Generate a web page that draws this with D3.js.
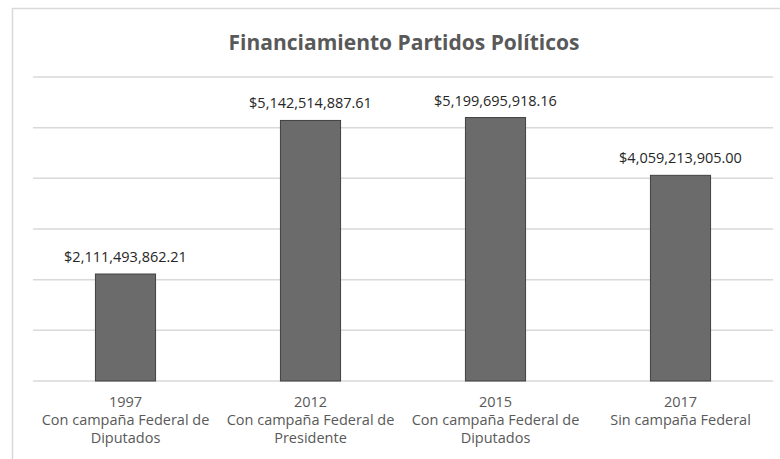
<!DOCTYPE html>
<html>
<head>
<meta charset="utf-8">
<script src="https://cdn.jsdelivr.net/npm/d3@7"></script>
<style>
  body { margin: 0; background: #fff; }
  svg text { font-family: "Open Sans", "Liberation Sans", sans-serif; }
</style>
</head>
<body>
<div id="chart"></div>
<script>
// data
var years = ["1997", "2012", "2015", "2017"];
var descriptions = ["Con campaña Federal de|Diputados", "Con campaña Federal de|Presidente", "Con campaña Federal de|Diputados", "Sin campaña Federal"];
var amounts = [2111493862.21, 5142514887.61, 5199695918.16, 4059213905.00];
var gridTicks = [0, 1e9, 2e9, 3e9, 4e9, 5e9, 6e9];

var svgWidth = 780, svgHeight = 459;
var margin = {top: 77, right: 7, bottom: 78, left: 33};
var width = svgWidth - margin.left - margin.right,
    height = svgHeight - margin.top - margin.bottom;

var svg = d3.select("#chart").append("svg")
    .attr("width", svgWidth)
    .attr("height", svgHeight);

// chart frame (cut off at right and bottom like the screenshot)
svg.append("rect")
    .attr("x", 12.5).attr("y", 8.5)
    .attr("width", 800).attr("height", 500)
    .attr("fill", "none")
    .attr("stroke", "#d9d9d9")
    .attr("stroke-width", 1.5);

svg.append("text")
    .attr("x", 404)
    .attr("y", 50)
    .attr("text-anchor", "middle")
    .style("font-size", "21px")
    .style("font-weight", "bold")
    .attr("fill", "#595959")
    .text("Financiamiento Partidos Políticos");

var g = svg.append("g")
    .attr("transform", "translate(" + margin.left + "," + margin.top + ")");

var xScale = d3.scaleBand()
    .domain(years)
    .range([0, width])
    .paddingInner(0.675)
    .paddingOuter(0.3375);

var yScale = d3.scaleLinear()
    .domain([0, 6e9])
    .range([height, 0]);

// gridlines
g.selectAll(".grid")
    .data(gridTicks)
    .enter().append("line")
    .attr("class", "grid")
    .attr("x1", 0)
    .attr("x2", width)
    .attr("y1", function(d) { return yScale(d); })
    .attr("y2", function(d) { return yScale(d); })
    .attr("stroke", "#d9d9d9")
    .attr("stroke-width", 1.5);

var data = years.map(function(y, i) {
    return {year: y, desc: descriptions[i], value: amounts[i]};
});

// bars
g.selectAll(".bar")
    .data(data)
    .enter().append("rect")
    .attr("class", "bar")
    .attr("x", function(d) { return xScale(d.year); })
    .attr("y", function(d) { return yScale(d.value); })
    .attr("width", xScale.bandwidth())
    .attr("height", function(d) { return height - yScale(d.value); })
    .attr("fill", "#6b6b6b")
    .attr("stroke", "#404040")
    .attr("stroke-width", 1);

// value labels
var fmt = d3.format("$,.2f");
g.selectAll(".val")
    .data(data)
    .enter().append("text")
    .attr("class", "val")
    .attr("x", function(d) { return xScale(d.year) + xScale.bandwidth() / 2; })
    .attr("y", function(d) { return yScale(d.value) - 12; })
    .attr("text-anchor", "middle")
    .style("font-size", "14.5px")
    .attr("fill", "#262626")
    .text(function(d) { return fmt(d.value); });

// category labels
var cat = g.selectAll(".cat")
    .data(data)
    .enter().append("text")
    .attr("class", "cat")
    .attr("text-anchor", "middle")
    .style("font-size", "14.5px")
    .attr("fill", "#595959")
    .attr("transform", function(d) {
        return "translate(" + (xScale(d.year) + xScale.bandwidth() / 2) + "," + (height + 26) + ")";
    });

cat.each(function(d) {
    var lines = [d.year].concat(d.desc.split("|"));
    var t = d3.select(this);
    lines.forEach(function(l, i) {
        t.append("tspan")
            .attr("x", 0)
            .attr("y", i * 18)
            .text(l);
    });
});
</script>
</body>
</html>
